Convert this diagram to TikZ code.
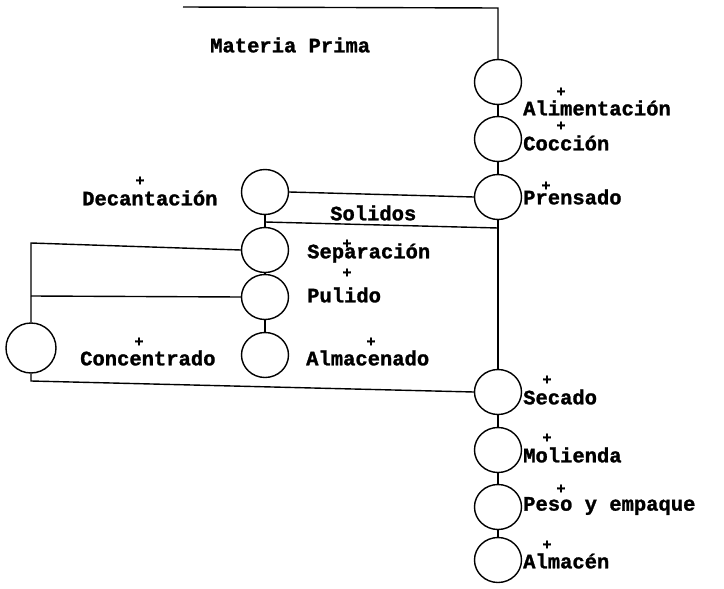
\documentclass[tikz,border=0pt]{standalone}
\usepackage{fontspec}
\newfontfamily\tw[FakeBold=1.3]{Liberation Mono Bold}
\usetikzlibrary{shapes.geometric}
\tikzset{
  proc/.style={draw, ellipse, line width=1.4pt, minimum width=47pt, minimum height=45pt, inner sep=0pt},
  lab/.style={font=\tw\fontsize{20.5}{24}\selectfont, inner sep=0pt, anchor=west},
  plus/.style={font=\tw\fontsize{15}{18}\selectfont, inner sep=0pt},
  ln/.style={line width=1.4pt}
}
\begin{document}
\begin{tikzpicture}[x=1pt,y=-1pt]
\useasboundingbox (0,0) rectangle (724,589);
% right column
\node[proc] (ali) at (498,82) {};
\node[proc] (coc) at (498,139) {};
\node[proc] (pre) at (498,197) {};
\node[proc] (sec) at (498,392) {};
\node[proc] (mol) at (498,450) {};
\node[proc] (pes) at (498,507) {};
\node[proc] (alc) at (498,560) {};
% middle column
\node[proc] (dec) at (265,192) {};
\node[proc] (sep) at (265,250) {};
\node[proc] (pul) at (265,297) {};
\node[proc] (alm) at (265,355) {};
% left
\node[proc, minimum width=50pt, minimum height=50pt] (con) at (31,348) {};

\coordinate (tl) at (183,7);
\coordinate (tr) at (498,8);
\coordinate (s1) at (265,222);
\coordinate (s2) at (498,228);
\coordinate (l1) at (31,243);
\coordinate (l2) at (31,296);
\coordinate (b1) at (31,381);

\draw[ln] (tl) -- (tr) -- (ali.north);
\draw[ln] (ali) -- (coc);
\draw[ln] (coc) -- (pre);
\draw[ln] (pre.south) -- (sec.north);
\draw[ln] (sec) -- (mol);
\draw[ln] (mol) -- (pes);
\draw[ln] (pes) -- (alc);
\draw[ln] (dec.east) -- (pre.west);
\draw[ln] (dec) -- (sep);
\draw[ln] (s1) -- (s2);
\draw[ln] (sep) -- (pul);
\draw[ln] (pul) -- (alm);
\draw[ln] (sep.west) -- (l1) -- (con.north);
\draw[ln] (pul.west) -- (l2);
\draw[ln] (con.south) -- (b1) -- (sec.west);

% labels
\node[lab] (tmp) at (210,45) {Materia Prima};
\node[plus] (p1) at (561,92) {+};
\node[lab] (tali) at (523,108) {Alimentación};
\node[plus] (p2) at (561,126) {+};
\node[lab] (tcoc) at (523,143) {Cocción};
\node[lab] (tpre) at (523,197) {Prensado};
\node[plus] (p3) at (546,186) {+};
\node[plus] (p4) at (140,181) {+};
\node[lab] (tdec) at (82,198) {Decantación};
\node[lab] (tsol) at (330,213) {Solidos};
\node[lab] (tsep) at (307,253) {Separación};
\node[plus] (p5) at (347,244) {+};
\node[plus] (p6) at (347,273) {+};
\node[lab] (tpul) at (307,295) {Pulido};
\node[plus] (p7) at (139,342) {+};
\node[lab] (tcon) at (80,358) {Concentrado};
\node[plus] (p8) at (371,342) {+};
\node[lab] (talm) at (306,358) {Almacenado};
\node[plus] (p9) at (547,380) {+};
\node[lab] (tsec) at (523,397) {Secado};
\node[plus] (p10) at (547,438) {+};
\node[lab] (tmol) at (523,455) {Molienda};
\node[plus] (p11) at (561,489) {+};
\node[lab] (tpes) at (523,506) {Peso y empaque};
\node[plus] (p12) at (547,545) {+};
\node[lab] (talc) at (523,561) {Almacén};
\end{tikzpicture}
\end{document}
